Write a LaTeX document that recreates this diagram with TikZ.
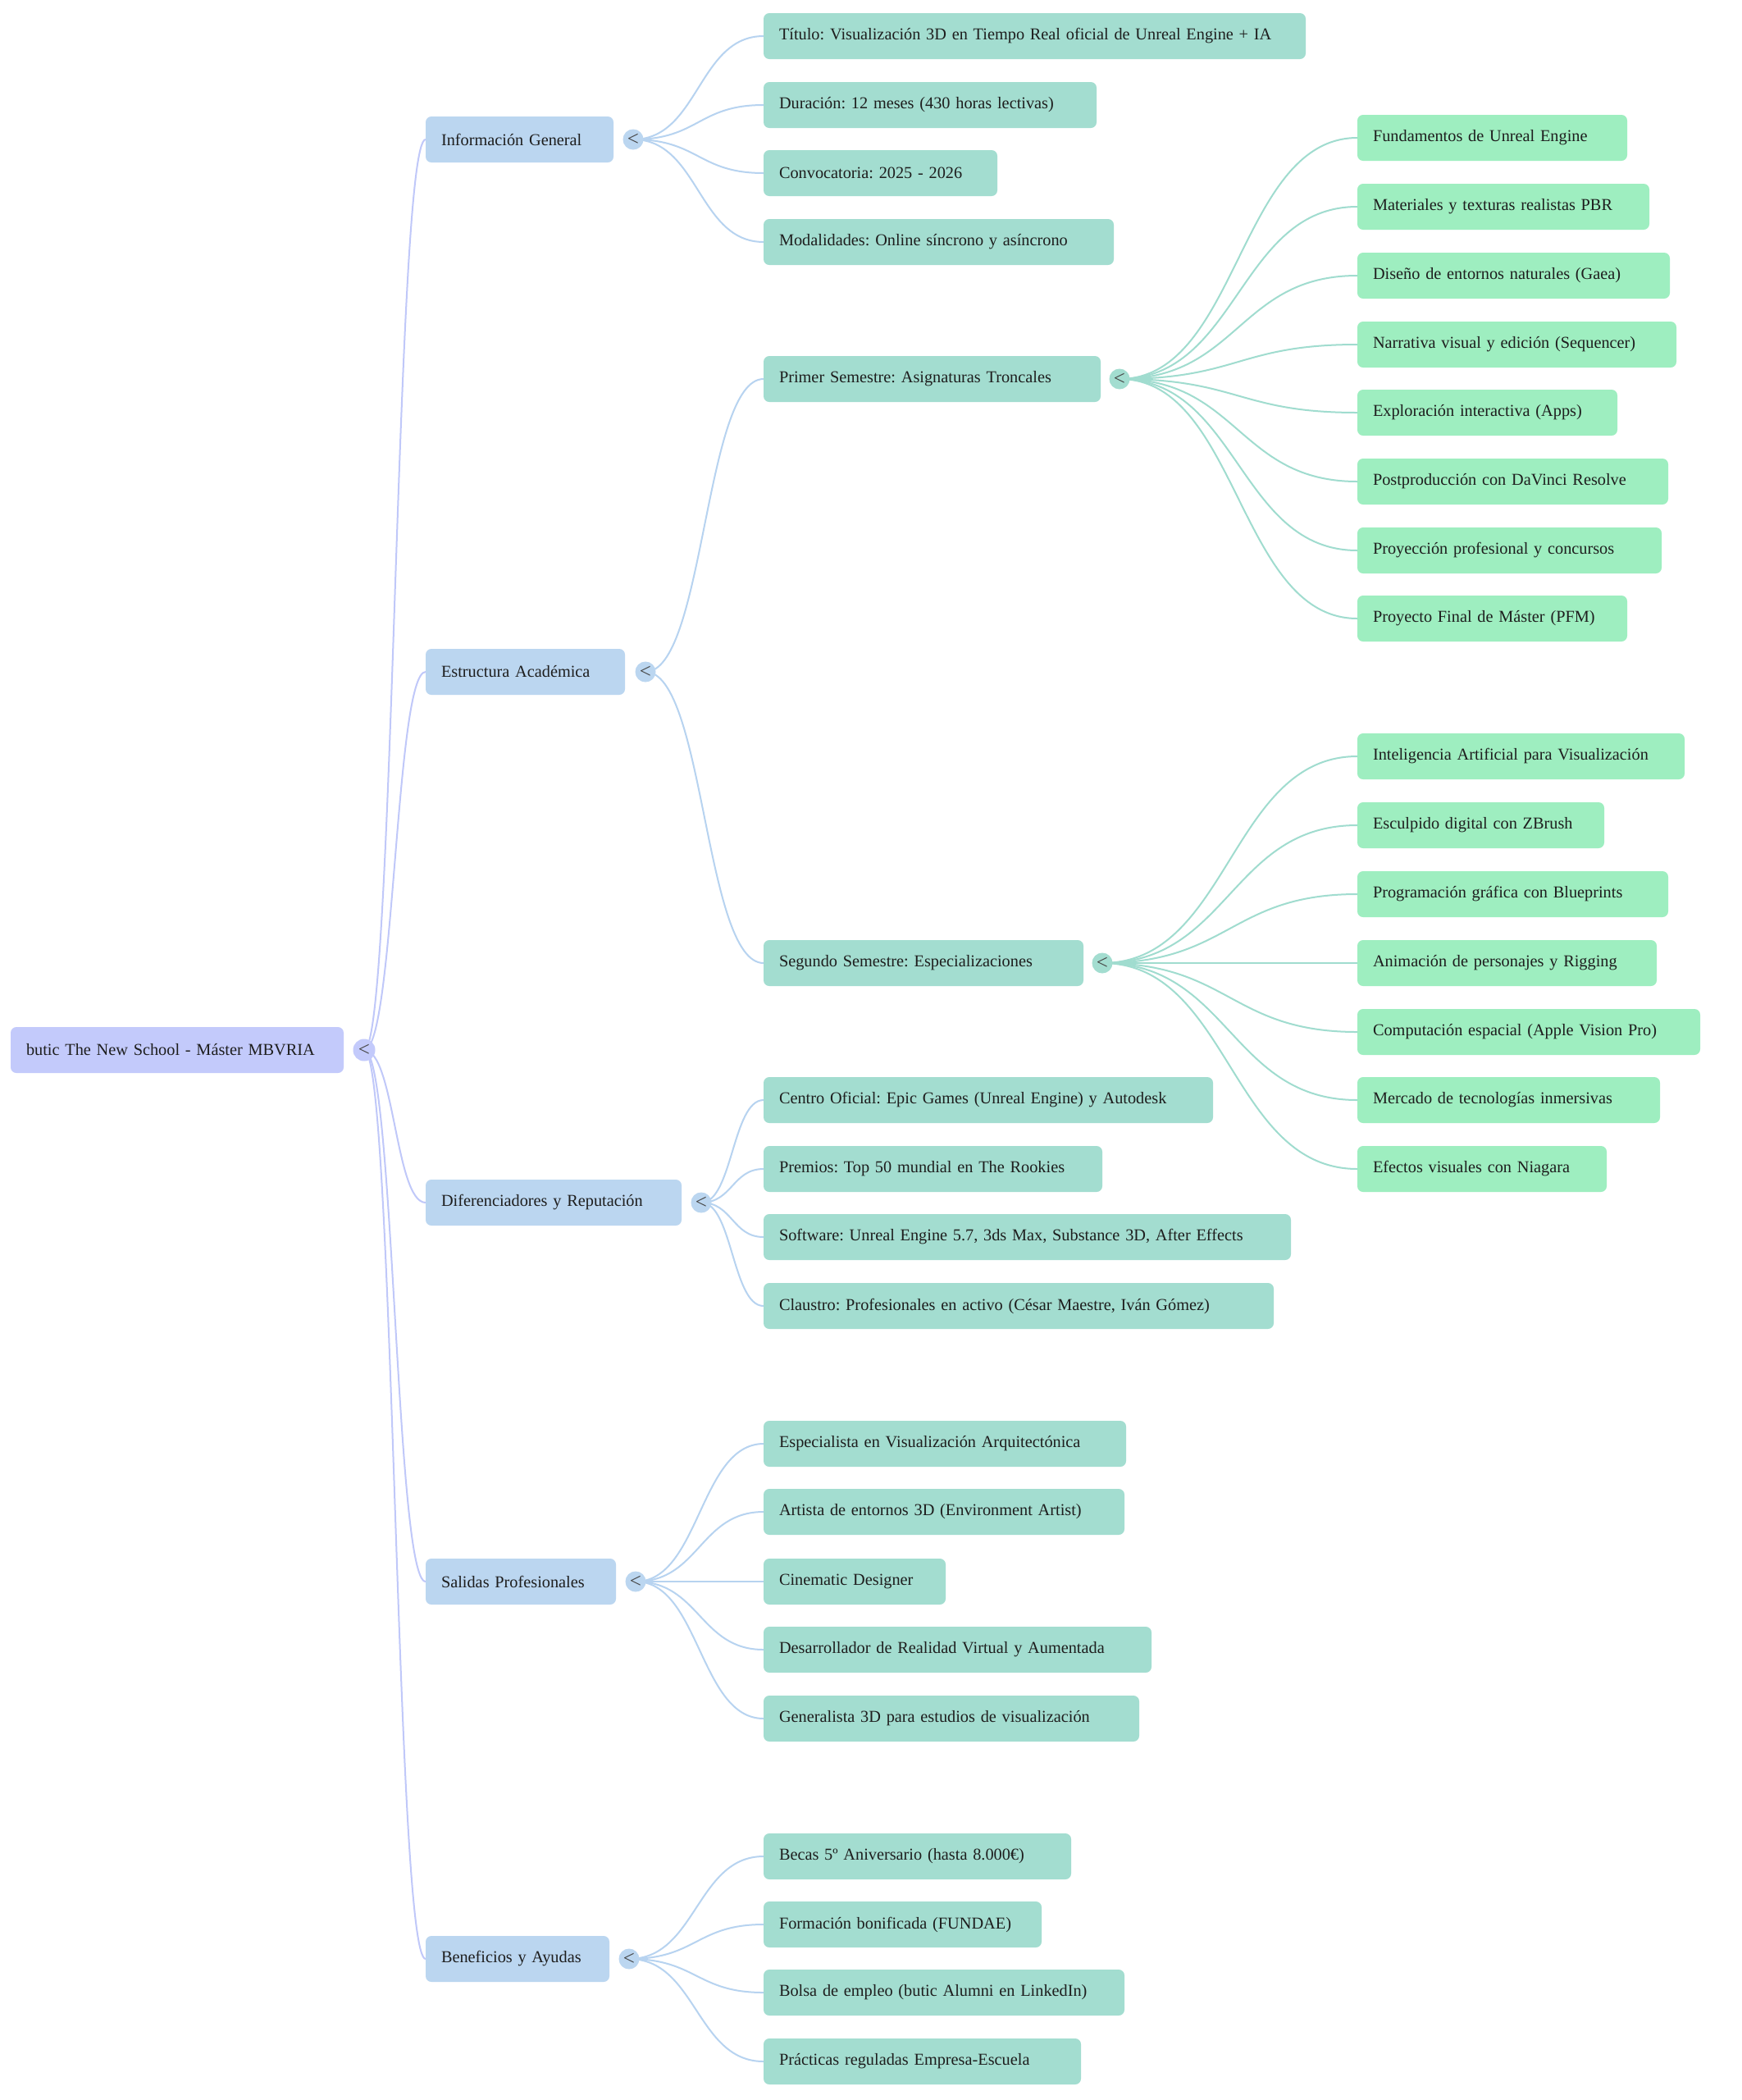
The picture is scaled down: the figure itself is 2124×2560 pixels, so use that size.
\documentclass[tikz,border=0pt]{standalone}
\usepackage{fontspec}
\setmainfont{Liberation Serif}
\frenchspacing
\definecolor{rootc}{HTML}{C3CAFB}
\definecolor{lonec}{HTML}{BBD6F0}
\definecolor{ltwoc}{HTML}{A3DDD0}
\definecolor{lthreec}{HTML}{9EEEC0}
\definecolor{rootedge}{HTML}{C0C8F9}
\definecolor{oneedge}{HTML}{B7D3F0}
\definecolor{twoedge}{HTML}{A0DCCF}
\definecolor{txt}{HTML}{1E1E1E}
\definecolor{togtxt}{HTML}{444444}
\tikzset{
  boxbase/.style={anchor=west, rounded corners=7pt, minimum height=56pt, inner xsep=19pt, inner ysep=0pt, align=left, outer sep=0pt, text=txt, font=\fontsize{20.3}{25}\selectfont\frenchspacing},
  rootbox/.style={boxbase, fill=rootc},
  onebox/.style={boxbase, fill=lonec},
  twobox/.style={boxbase, fill=ltwoc},
  threebox/.style={boxbase, fill=lthreec},
  togbase/.style={circle, minimum size=25pt, inner sep=0pt, text=togtxt, font=\fontsize{25}{25}\selectfont},
  rtog/.style={togbase, fill=rootc, minimum size=27pt},
  onetog/.style={togbase, fill=lonec},
  twotog/.style={togbase, fill=ltwoc},
  redge/.style={draw=rootedge, line width=2pt},
  oedge/.style={draw=oneedge, line width=2pt},
  tedge/.style={draw=twoedge, line width=2pt},
}
\newcommand\mnode[6]{%
  \pgfmathsetmacro\mnw{#3-#2-38}%
  \node[#5, text width=\mnw pt] (#1) at (#2,#4) {#6};}
\newcommand\lnk[4]{\draw[#1] (#2) .. controls +(#4,0) and +(-#4,0) .. (#3.west);}
\begin{document}
\begin{tikzpicture}[x=1pt,y=-1pt]
\useasboundingbox[fill=white] (0,0) rectangle (2124,2560);
% root
\mnode{r}{13}{419}{1280}{rootbox}{butic The New School - Máster MBVRIA}
% level 1
\mnode{a}{519}{748}{170}{onebox}{Información General}
\mnode{b}{519}{762}{819}{onebox}{Estructura Académica}
\mnode{c}{519}{831}{1466}{onebox}{Diferenciadores y Reputación}
\mnode{d}{519}{751}{1928}{onebox}{Salidas Profesionales}
\mnode{e}{519}{743}{2388}{onebox}{Beneficios y Ayudas}
% level 2
\mnode{a1}{931}{1592}{44}{twobox}{Título: Visualización 3D en Tiempo Real oficial de Unreal Engine + IA}
\mnode{a2}{931}{1337}{128}{twobox}{Duración: 12 meses (430 horas lectivas)}
\mnode{a3}{931}{1216}{211}{twobox}{Convocatoria: 2025 - 2026}
\mnode{a4}{931}{1358}{295}{twobox}{Modalidades: Online síncrono y asíncrono}
\mnode{b1}{931}{1342}{462}{twobox}{Primer Semestre: Asignaturas Troncales}
\mnode{b2}{931}{1321}{1174}{twobox}{Segundo Semestre: Especializaciones}
\mnode{c1}{931}{1479}{1341}{twobox}{Centro Oficial: Epic Games (Unreal Engine) y Autodesk}
\mnode{c2}{931}{1344}{1425}{twobox}{Premios: Top 50 mundial en The Rookies}
\mnode{c3}{931}{1574}{1508}{twobox}{Software: Unreal Engine 5.7, 3ds Max, Substance 3D, After Effects}
\mnode{c4}{931}{1553}{1592}{twobox}{Claustro: Profesionales en activo (César Maestre, Iván Gómez)}
\mnode{d1}{931}{1373}{1760}{twobox}{Especialista en Visualización Arquitectónica}
\mnode{d2}{931}{1371}{1843}{twobox}{Artista de entornos 3D (Environment Artist)}
\mnode{d3}{931}{1153}{1928}{twobox}{Cinematic Designer}
\mnode{d4}{931}{1404}{2011}{twobox}{Desarrollador de Realidad Virtual y Aumentada}
\mnode{d5}{931}{1389}{2095}{twobox}{Generalista 3D para estudios de visualización}
\mnode{e1}{931}{1306}{2263}{twobox}{Becas 5º Aniversario (hasta 8.000€)}
\mnode{e2}{931}{1270}{2346}{twobox}{Formación bonificada (FUNDAE)}
\mnode{e3}{931}{1371}{2429}{twobox}{Bolsa de empleo (butic Alumni en LinkedIn)}
\mnode{e4}{931}{1318}{2513}{twobox}{Prácticas reguladas Empresa-Escuela}
% level 3
\mnode{b1a}{1655}{1984}{168}{threebox}{Fundamentos de Unreal Engine}
\mnode{b1b}{1655}{2011}{252}{threebox}{Materiales y texturas realistas PBR}
\mnode{b1c}{1655}{2036}{336}{threebox}{Diseño de entornos naturales (Gaea)}
\mnode{b1d}{1655}{2044}{420}{threebox}{Narrativa visual y edición (Sequencer)}
\mnode{b1e}{1655}{1972}{503}{threebox}{Exploración interactiva (Apps)}
\mnode{b1f}{1655}{2034}{587}{threebox}{Postproducción con DaVinci Resolve}
\mnode{b1g}{1655}{2026}{671}{threebox}{Proyección profesional y concursos}
\mnode{b1h}{1655}{1984}{754}{threebox}{Proyecto Final de Máster (PFM)}
\mnode{b2a}{1655}{2054}{922}{threebox}{Inteligencia Artificial para Visualización}
\mnode{b2b}{1655}{1956}{1006}{threebox}{Esculpido digital con ZBrush}
\mnode{b2c}{1655}{2034}{1090}{threebox}{Programación gráfica con Blueprints}
\mnode{b2d}{1655}{2020}{1174}{threebox}{Animación de personajes y Rigging}
\mnode{b2e}{1655}{2073}{1258}{threebox}{Computación espacial (Apple Vision Pro)}
\mnode{b2f}{1655}{2024}{1341}{threebox}{Mercado de tecnologías inmersivas}
\mnode{b2g}{1655}{1959}{1425}{threebox}{Efectos visuales con Niagara}
% toggle positions
\coordinate (tr) at (444,1280);
\coordinate (ta) at (772,170);
\coordinate (tb) at (787,819);
\coordinate (tc) at (855,1466);
\coordinate (td) at (775,1928);
\coordinate (te) at (767,2388);
\coordinate (tb1) at (1365,462);
\coordinate (tb2) at (1344,1174);
% edges root
\foreach \n in {a,b,c,d,e} {\lnk{redge}{tr}{\n}{37}}
% edges level 1
\foreach \n in {a1,a2,a3,a4} {\lnk{oedge}{ta}{\n}{80}}
\foreach \n in {b1,b2} {\lnk{oedge}{tb}{\n}{72}}
\foreach \n in {c1,c2,c3,c4} {\lnk{oedge}{tc}{\n}{38}}
\foreach \n in {d1,d2,d3,d4,d5} {\lnk{oedge}{td}{\n}{78}}
\foreach \n in {e1,e2,e3,e4} {\lnk{oedge}{te}{\n}{82}}
% edges level 2
\foreach \n in {b1a,b1b,b1c,b1d,b1e,b1f,b1g,b1h} {\lnk{tedge}{tb1}{\n}{145}}
\foreach \n in {b2a,b2b,b2c,b2d,b2e,b2f,b2g} {\lnk{tedge}{tb2}{\n}{155}}
% toggles
\node[rtog] (ktr) at (tr) {<};
\node[onetog] (kta) at (ta) {<};
\node[onetog] (ktb) at (tb) {<};
\node[onetog] (ktc) at (tc) {<};
\node[onetog] (ktd) at (td) {<};
\node[onetog] (kte) at (te) {<};
\node[twotog] (ktb1) at (tb1) {<};
\node[twotog] (ktb2) at (tb2) {<};
\end{tikzpicture}
\end{document}
